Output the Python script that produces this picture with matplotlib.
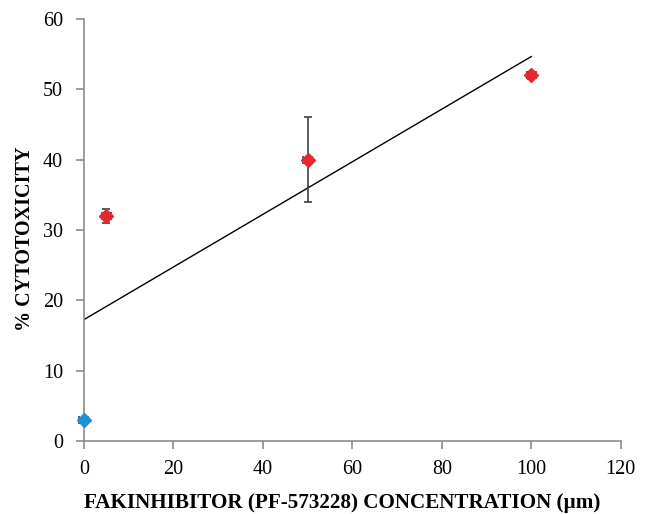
import numpy as np
import matplotlib
matplotlib.use("Agg")
import matplotlib.pyplot as plt

plt.rcParams['font.family'] = ['Liberation Serif', 'DejaVu Serif']

conc = [0, 5, 50, 100]
cyto = [3, 32, 40, 52]
yerr = [0.3, 1, 6, 0.5]
xerr = [1, 1, 1, 1]
colors = ['#1f8fd6', '#e8262b', '#e8262b', '#e8262b']

fig = plt.figure(figsize=(6.5, 5.14), dpi=100)
ax = fig.add_axes([0.129, 0.142, 0.826, 0.821])

for x, y, ye, xe, c in zip(conc, cyto, yerr, xerr, colors):
    cont = ax.errorbar(x, y, yerr=ye, xerr=xe, fmt='D', color=c, markersize=7,
                       ecolor='#404040', elinewidth=1.2, capsize=3, capthick=1.2, zorder=3)
    for art in cont.get_children():
        art.set_clip_on(False)

coef = np.polyfit(conc, cyto, 1)
xs = np.array([0, 100])
ax.plot(xs, np.polyval(coef, xs), color='black', lw=1.0, zorder=2)

ax.set_xlim(0, 120)
ax.set_ylim(0, 60)
ax.set_xticks(range(0, 121, 20))
ax.set_yticks(range(0, 61, 10))
for s in ['top', 'right']:
    ax.spines[s].set_visible(False)
for s in ['left', 'bottom']:
    ax.spines[s].set_color('#8c8c8c')
    ax.spines[s].set_linewidth(1.2)
ax.tick_params(direction='out', length=6, width=1.2, color='#8c8c8c', labelsize=14.5)
ax.tick_params(axis='y', pad=9)
ax.tick_params(axis='x', pad=8)
ax.set_xlabel('FAKINHIBITOR (PF-573228) CONCENTRATION (µm)', fontsize=15.2, fontweight='bold',
              labelpad=10, x=0.482)
ax.set_ylabel('% CYTOTOXICITY', fontsize=14.5, fontweight='bold', labelpad=5.5, y=0.479)

fig.savefig('out.png', dpi=100)
